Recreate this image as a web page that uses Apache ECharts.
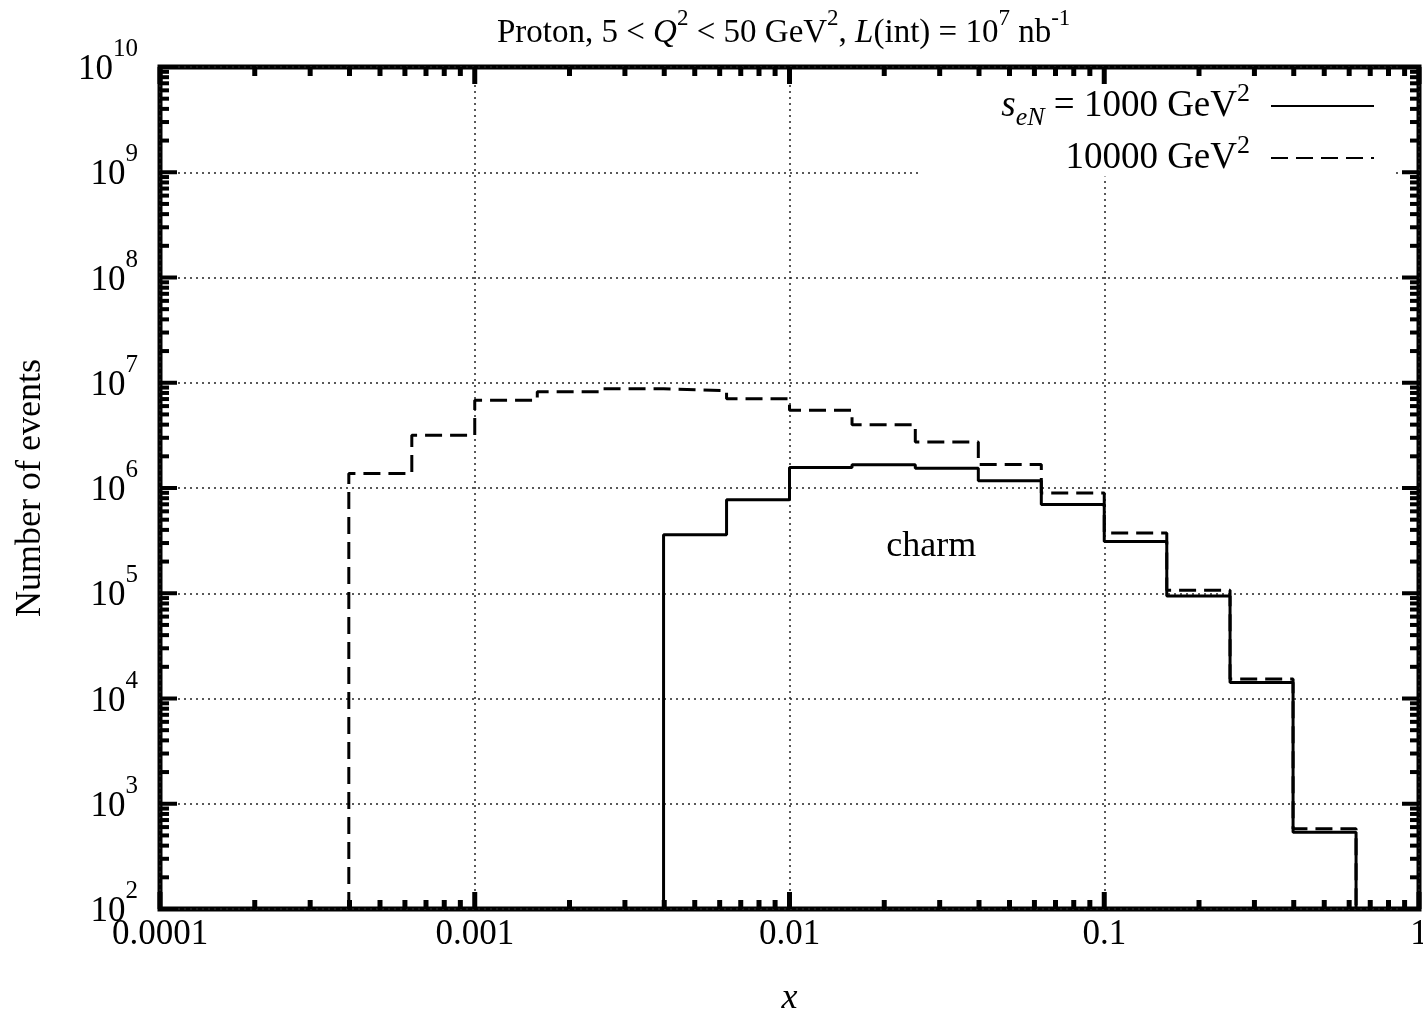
<!DOCTYPE html>
<html>
<head>
<meta charset="utf-8">
<script src="https://cdn.jsdelivr.net/npm/echarts@6/dist/echarts.min.js"></script>
<style>
  html, body { margin: 0; padding: 0; background: #fff; }
  #main { width: 1423px; height: 1021px; }
</style>
</head>
<body>
<div id="main"></div>
<script>
// bin edges in x (log spaced, 5 bins per decade)
const binEdges = [0.000398, 0.000631, 0.001, 0.00158, 0.00251, 0.00398, 0.00631, 0.01,
  0.0158, 0.0251, 0.0398, 0.0631, 0.1, 0.158, 0.251, 0.398, 0.631];

// number of charm events per bin, s_eN = 1000 GeV^2 (solid)
const events1000 = [null, null, null, null, null, 3.59e5, 7.74e5, 1.57e6,
  1.66e6, 1.54e6, 1.17e6, 6.98e5, 3.1e5, 9.4e4, 1.42e4, 537];

// number of charm events per bin, s_eN = 10000 GeV^2 (dashed)
const events10000 = [1.37e6, 3.17e6, 6.82e6, 8.2e6, 8.77e6, 8.4e6, 7.05e6, 5.48e6,
  4.0e6, 2.74e6, 1.67e6, 8.96e5, 3.73e5, 1.07e5, 1.53e4, 578];

const xTickLabels = { '-4': '0.0001', '-3': '0.001', '-2': '0.01', '-1': '0.1', '0': '1' };
const xMin = 1e-4, xMax = 1, yMin = 1e2, yMax = 1e10;

const FONT = '"Liberation Serif", "DejaVu Serif", serif';

// turn bin values into a step outline that starts and ends on the bottom axis
function stepData(vals) {
  const pts = [];
  let first = vals.findIndex(v => v != null);
  let last = first;
  pts.push([binEdges[first], yMin]);
  for (let i = first; i < vals.length; i++) {
    if (vals[i] == null) continue;
    pts.push([binEdges[i], vals[i]]);
    last = i;
  }
  pts.push([binEdges[last + 1], vals[last]]);
  pts.push([binEdges[last + 1], yMin]);
  return pts;
}

// tick marks (gnuplot style, inside, mirrored)
const xTicks = [];
for (let e = -4; e <= 0; e++) {
  xTicks.push([Math.pow(10, e), yMin, 17]);
  if (e < 0) for (let m = 2; m <= 9; m++) xTicks.push([m * Math.pow(10, e), yMin, 9]);
}
const yTicks = [];
for (let e = 2; e <= 10; e++) {
  yTicks.push([xMin, Math.pow(10, e), 17]);
  if (e < 10) for (let m = 2; m <= 9; m++) yTicks.push([xMin, m * Math.pow(10, e), 9]);
}

const titleRich = {
  n: { fontFamily: FONT, fontSize: 33, fontWeight: 'normal', lineHeight: 52, verticalAlign: 'middle', color: '#000' },
  i: { fontFamily: FONT, fontSize: 33, fontWeight: 'normal', lineHeight: 52, verticalAlign: 'middle', fontStyle: 'italic', color: '#000' },
  s: { fontFamily: FONT, fontSize: 23, fontWeight: 'normal', lineHeight: 23, verticalAlign: 'top', color: '#000' }
};

const chart = echarts.init(document.getElementById('main'), null, { renderer: 'canvas' });

const option = {
  backgroundColor: '#fff',
  animation: false,
  title: {
    text: '{n|Proton, 5 < }{i|Q}{s|2}{n| < 50 GeV}{s|2}{n|, }{i|L}{n|(int) = 10}{s|7}{n| nb}{s|-1}',
    left: 497,
    top: 7,
    padding: 0,
    textStyle: { fontWeight: 'normal', rich: titleRich }
  },
  legend: {
    data: ['s1000', 's10000'],
    orient: 'vertical',
    align: 'right',
    right: 30,
    top: 77,
    padding: [4, 18, 0, 82],
    backgroundColor: '#fff',
    itemWidth: 103,
    itemHeight: 20,
    itemGap: 2,
    itemStyle: { opacity: 0 },
    formatter: function (name) {
      if (name === 's1000') return '{it|s}{sub|eN}{b| = 1000 GeV}{sup|2}';
      return '{b|10000 GeV}{sup|2}';
    },
    textStyle: {
      width: 290,
      align: 'right',
      padding: [0, 16, 0, 0],
      rich: {
        b: { fontFamily: FONT, fontSize: 37, lineHeight: 50, verticalAlign: 'middle', color: '#000' },
        it: { fontFamily: FONT, fontSize: 37, lineHeight: 50, verticalAlign: 'middle', fontStyle: 'italic', color: '#000' },
        sub: { fontFamily: FONT, fontSize: 26, lineHeight: 34, verticalAlign: 'bottom', fontStyle: 'italic', color: '#000' },
        sup: { fontFamily: FONT, fontSize: 26, lineHeight: 24, verticalAlign: 'top', color: '#000' }
      }
    }
  },
  grid: {
    left: 160, right: 4, top: 67, bottom: 112,
    show: true,
    borderColor: '#000',
    borderWidth: 5,
    outerBoundsMode: 'none'
  },
  xAxis: {
    type: 'log',
    logBase: 10,
    min: xMin,
    max: xMax,
    splitNumber: 4,
    name: 'x',
    nameLocation: 'middle',
    nameGap: 72,
    nameTextStyle: { fontFamily: FONT, fontSize: 36, fontStyle: 'italic', color: '#000' },
    axisLine: { show: false },
    axisTick: { show: false },
    axisLabel: {
      margin: 8,
      fontFamily: FONT,
      fontSize: 35,
      color: '#000',
      formatter: function (v) {
        return xTickLabels[String(Math.round(Math.log10(v)))];
      }
    },
    splitLine: { show: true, lineStyle: { color: '#222', width: 1.5, type: [2, 4] } }
  },
  yAxis: {
    type: 'log',
    logBase: 10,
    min: yMin,
    max: yMax,
    splitNumber: 8,
    name: 'Number of events',
    nameLocation: 'middle',
    nameGap: 111,
    nameTextStyle: { fontFamily: FONT, fontSize: 36, color: '#000' },
    axisLine: { show: false },
    axisTick: { show: false },
    axisLabel: {
      margin: 22,
      formatter: function (v) {
        return '{b|10}{s|' + Math.round(Math.log10(v)) + '}';
      },
      rich: {
        b: { fontFamily: FONT, fontSize: 35, lineHeight: 60, verticalAlign: 'middle', padding: [6, 0, 0, 0], color: '#000' },
        s: { fontFamily: FONT, fontSize: 25, lineHeight: 25, verticalAlign: 'top', color: '#000' }
      }
    },
    splitLine: { show: true, lineStyle: { color: '#222', width: 1.5, type: [2, 4] } }
  },
  series: [
    {
      name: 's1000',
      type: 'line',
      step: 'end',
      symbol: 'none',
      data: stepData(events1000),
      lineStyle: { color: '#000', width: 3, type: 'solid' },
      itemStyle: { color: '#000' },
      z: 3,
      markPoint: {
        symbol: 'circle',
        symbolSize: 1,
        silent: true,
        itemStyle: { color: 'rgba(0,0,0,0)' },
        data: [{ coord: [0.0282, 2.75e5] }],
        label: {
          show: true,
          position: 'inside',
          formatter: 'charm',
          fontFamily: FONT,
          fontSize: 36,
          color: '#000'
        }
      }
    },
    {
      name: 's10000',
      type: 'line',
      step: 'end',
      symbol: 'none',
      data: stepData(events10000),
      lineStyle: { color: '#000', width: 3, type: [17, 8] },
      itemStyle: { color: '#000' },
      z: 2
    },
    {
      name: 'xticks',
      type: 'custom',
      silent: true,
      z: 5,
      data: xTicks,
      renderItem: function (params, api) {
        const b = api.coord([api.value(0), yMin]);
        const t = api.coord([api.value(0), yMax]);
        const L = api.value(2);
        const st = { stroke: '#000', lineWidth: 5 };
        return {
          type: 'group',
          children: [
            { type: 'line', shape: { x1: b[0], y1: b[1], x2: b[0], y2: b[1] - L }, style: st },
            { type: 'line', shape: { x1: t[0], y1: t[1], x2: t[0], y2: t[1] + L }, style: st }
          ]
        };
      }
    },
    {
      name: 'yticks',
      type: 'custom',
      silent: true,
      z: 5,
      data: yTicks,
      renderItem: function (params, api) {
        const l = api.coord([xMin, api.value(1)]);
        const r = api.coord([xMax, api.value(1)]);
        const L = api.value(2);
        const st = { stroke: '#000', lineWidth: 4 };
        return {
          type: 'group',
          children: [
            { type: 'line', shape: { x1: l[0], y1: l[1], x2: l[0] + L, y2: l[1] }, style: st },
            { type: 'line', shape: { x1: r[0], y1: r[1], x2: r[0] - L, y2: r[1] }, style: st }
          ]
        };
      }
    }
  ]
};

chart.setOption(option);
</script>
</body>
</html>
